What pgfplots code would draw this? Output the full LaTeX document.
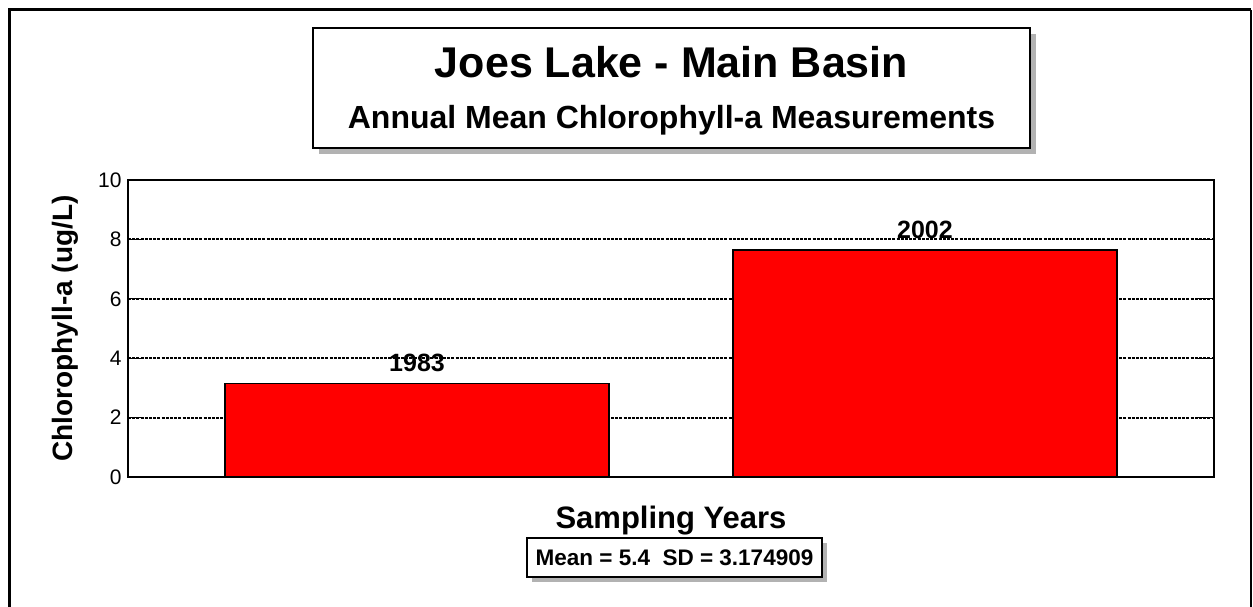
\documentclass[border=0pt]{standalone}
\usepackage{pgfplots}
\pgfplotsset{compat=1.18}
\usepackage{fontspec}
\setmainfont{Liberation Sans}
\begin{document}
\begin{tikzpicture}[x=1pt,y=1pt]
\path[use as bounding box] (0,0) rectangle (1253,607);
% outer frame
\draw[line width=3pt] (9,0) -- (9,597) -- (1251,597);
\draw[line width=1.5pt] (1251,597) -- (1251,0);
% title box
\fill[gray!60] (319,453) rectangle (1036,573);
\draw[fill=white, line width=2pt] (313,459) rectangle (1030,579);
\node[anchor=base, font=\bfseries\fontsize{43}{43}\selectfont] at (671.5,529) {Joes Lake - Main Basin};
\node[anchor=base, font=\bfseries\fontsize{32}{32}\selectfont] at (671.5,478) {Annual Mean Chlorophyll-a Measurements};
\begin{axis}[
  at={(128pt,130pt)}, anchor=south west,
  width=1086pt, height=297pt, scale only axis,
  xmin=-0.569, xmax=1.569, ymin=0, ymax=10,
  ytick={0,2,4,6,8,10}, xtick=\empty,
  ymajorgrids,
  grid style={black, line width=2pt, dash pattern=on 3pt off 1.2pt},
  axis line style={line width=1.5pt},
  tick style={black, line width=1pt}, major tick length=16pt, tick align=inside,
  /pgf/number format/assume math mode=true,
  yticklabel style={font=\fontsize{21}{21}\selectfont, xshift=-3pt},
  ylabel={Chlorophyll-a (ug/L)},
  ylabel style={font=\bfseries\fontsize{28}{28}\selectfont, at={(axis description cs:-0.058,0.5)}, anchor=center},
  xlabel={Sampling Years},
  xlabel style={font=\bfseries\fontsize{31}{31}\selectfont, at={(axis description cs:0.5,-0.145)}, anchor=center},
  ybar, bar width=0.756,
  point meta=explicit symbolic,
  nodes near coords,
  every node near coord/.append style={font=\bfseries\fontsize{25}{25}\selectfont, anchor=south, yshift=7pt},
]
\addplot[fill=red, draw=black, line width=1.5pt] coordinates {(0,3.155) [1983] (1,7.645) [2002]};
\end{axis}
% stats box
\fill[gray!60] (532,25) rectangle (827,64);
\draw[fill=white, line width=2pt] (527,30) rectangle (822,69);
\node[font=\bfseries\fontsize{22.5}{22.5}\selectfont] at (674.5,49.5) {Mean = 5.4~~SD = 3.174909};
\end{tikzpicture}
\end{document}
